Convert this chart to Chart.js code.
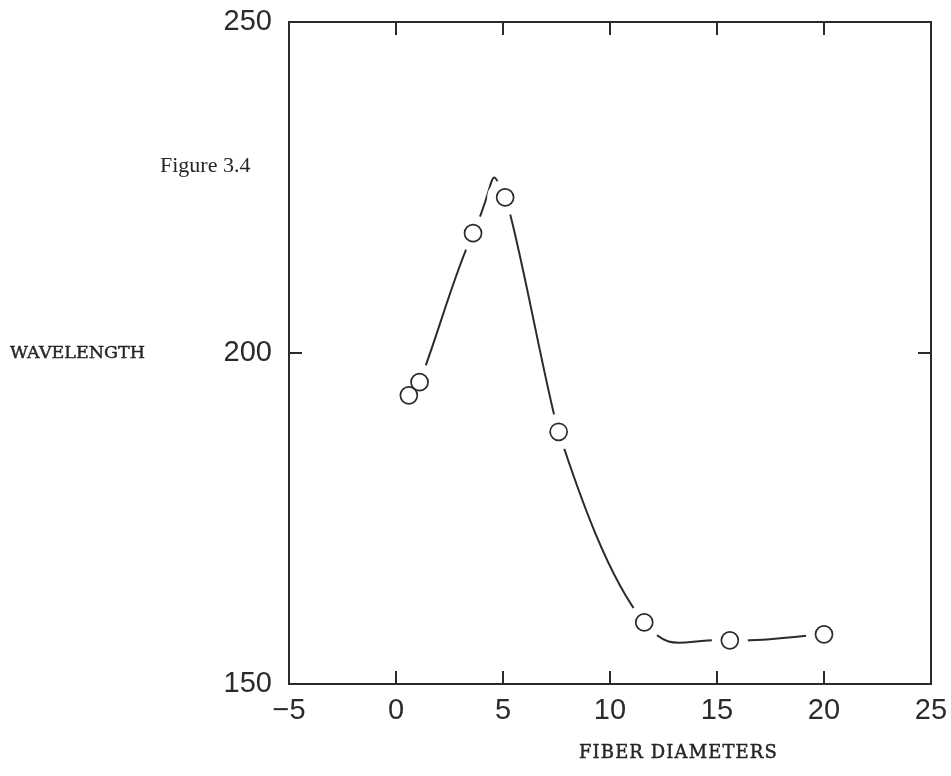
<!DOCTYPE html>
<html>
<head>
<meta charset="utf-8">
<script src="https://cdn.jsdelivr.net/npm/chart.js@4.4.1/dist/chart.umd.min.js"></script>
<style>
  html, body { margin: 0; padding: 0; background: #ffffff; }
  #wrap { position: relative; width: 951px; height: 776px; overflow: hidden; }
  #c { position: absolute; left: 0; top: 0; }
  .lbl { position: absolute; white-space: nowrap; color: #262626; line-height: 1; }
  #fig { left: 160px; top: 154px; font-family: "Liberation Serif", serif; font-size: 22px; }
  #ylab { left: 10px; top: 344px; font-family: "DejaVu Serif", serif; font-size: 17.5px; -webkit-text-stroke: 0.45px #262626; }
  #xlab { left: 579px; top: 743px; font-family: "DejaVu Serif", serif; font-size: 18px; letter-spacing: 1.1px; -webkit-text-stroke: 0.45px #262626; }
</style>
</head>
<body>
<div id="wrap">
  <canvas id="c" width="951" height="776"></canvas>
  <div class="lbl" id="fig">Figure 3.4</div>
  <div class="lbl" id="ylab">WAVELENGTH</div>
  <div class="lbl" id="xlab">FIBER DIAMETERS</div>
</div>
<script>
// ---- data ----
const fiberDiameters = [0.6, 1.1, 3.6, 5.1, 7.6, 11.6, 15.6, 20.0];
const wavelengths    = [193.6, 195.6, 218.1, 223.5, 188.1, 159.3, 156.6, 157.5];
const xTickValues = [-5, 0, 5, 10, 15, 20, 25];
const yTickValues = [150, 200, 250];

const points = fiberDiameters.map((d, i) => ({ x: d, y: wavelengths[i] }));

const ink = '#2b2b2b';

// which curve pieces each smoothing level draws (segment i joins point i and i+1)
const onlySegments = list => ({
  borderColor: c => (list.includes(c.p0DataIndex) ? ink : 'rgba(0,0,0,0)')
});

const framePlugin = {
  id: 'frameTicks',
  afterDraw(chart) {
    const { ctx, chartArea: a, scales } = chart;
    const x = scales.x, y = scales.y;
    const L = 12;
    ctx.save();
    ctx.strokeStyle = ink;
    ctx.lineWidth = 2;
    ctx.lineCap = 'square';
    ctx.strokeRect(a.left, a.top, a.right - a.left, a.bottom - a.top);
    ctx.beginPath();
    xTickValues.forEach(v => {
      const px = Math.round(x.getPixelForValue(v));
      ctx.moveTo(px, a.bottom); ctx.lineTo(px, a.bottom - L);
      ctx.moveTo(px, a.top); ctx.lineTo(px, a.top + L);
    });
    yTickValues.forEach(v => {
      const py = Math.round(y.getPixelForValue(v));
      ctx.moveTo(a.left, py); ctx.lineTo(a.left + L, py);
      ctx.moveTo(a.right, py); ctx.lineTo(a.right - L, py);
    });
    ctx.stroke();
    ctx.restore();
  }
};

const curve = (tension, segs, order) => ({
  data: points, order, showLine: true, pointRadius: 0, pointHoverRadius: 0,
  borderColor: ink, borderWidth: 2, tension, fill: false,
  segment: onlySegments(segs)
});

new Chart(document.getElementById('c'), {
  type: 'scatter',
  data: {
    datasets: [
      { // hollow circle markers (on top)
        data: points, order: 1, showLine: false,
        pointRadius: 8.5, pointHoverRadius: 8.5,
        pointBackgroundColor: '#ffffff', pointBorderColor: ink, pointBorderWidth: 1.7
      },
      { // white halo breaking the curve around each marker
        data: points, order: 2, showLine: false,
        pointRadius: 18, pointHoverRadius: 18,
        pointBackgroundColor: '#ffffff', pointBorderColor: '#ffffff', pointBorderWidth: 0
      },
      curve(0.3, [0, 1, 4, 6], 3),
      curve(0.15, [3], 4),
      curve(0.55, [5], 5),
      curve(1.2, [2], 6)
    ]
  },
  options: {
    responsive: false,
    animation: false,
    events: [],
    layout: { padding: { left: 0, right: 20, top: 22, bottom: 0 } },
    plugins: { legend: { display: false }, tooltip: { enabled: false } },
    scales: {
      x: {
        type: 'linear', min: -5, max: 25,
        afterBuildTicks: s => { s.ticks = xTickValues.map(v => ({ value: v })); },
        afterFit: s => { s.height = 92; s.paddingLeft = 0; s.paddingRight = 0; },
        grid: { display: false, drawTicks: false },
        border: { display: false },
        ticks: {
          padding: 10, color: ink,
          font: { family: '"Liberation Sans", Arial, sans-serif', size: 29 },
          callback: v => (v < 0 ? '\u2212' + Math.abs(v) : String(v))
        }
      },
      y: {
        type: 'linear', min: 150, max: 250,
        afterBuildTicks: s => { s.ticks = yTickValues.map(v => ({ value: v })); },
        afterFit: s => { s.width = 289; s.paddingTop = 0; s.paddingBottom = 0; },
        grid: { display: false, drawTicks: false },
        border: { display: false },
        ticks: {
          padding: 17, color: ink,
          font: { family: '"Liberation Sans", Arial, sans-serif', size: 29 }
        }
      }
    }
  },
  plugins: [framePlugin]
});
</script>
</body>
</html>
